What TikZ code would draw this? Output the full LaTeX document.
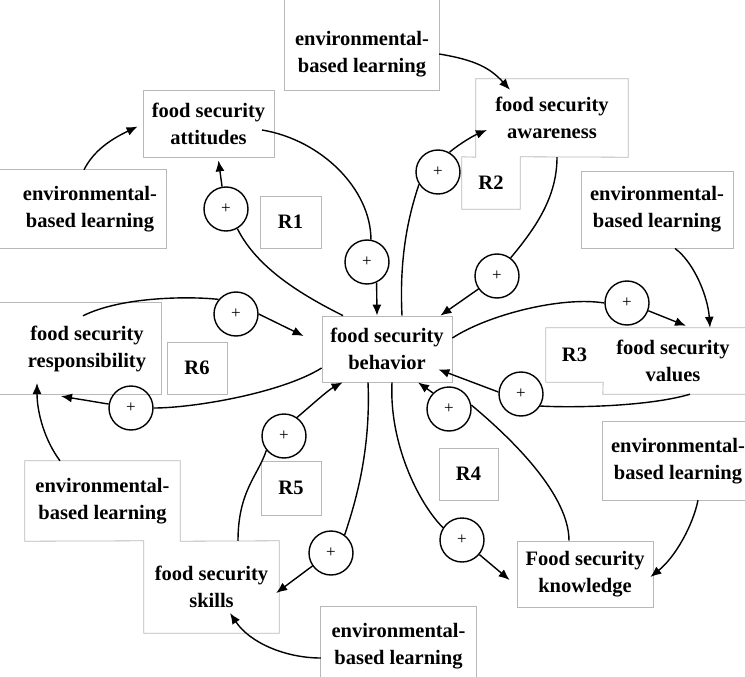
\documentclass[tikz,border=0pt]{standalone}
\usepackage{fontspec}
\setmainfont{Liberation Serif}
\usetikzlibrary{arrows.meta}
\definecolor{boxgray}{gray}{0.72}
\begin{document}
\begin{tikzpicture}[x=1pt,y=-1pt,
  every node/.style={font=\bfseries\fontsize{20.5}{27}\selectfont, align=center, inner sep=0pt},
  box/.style 2 args={minimum width=#1pt, minimum height=#2pt},
  framed/.style={draw=boxgray, line width=0.8pt},
  boxline/.style={draw=boxgray, line width=0.8pt},
  plus/.style={circle, draw, line width=1.4pt, minimum size=44pt, font=\fontsize{17}{17}\selectfont},
  conn/.style={line width=1.4pt},
  arr/.style={conn, -{Latex[length=11pt,width=9pt]}}]
\useasboundingbox (0,0) rectangle (745,677);
\clip (0,0) rectangle (745,677);

% text boxes
\node[box={154}{72}] (envT) at (362,54) {environmental-\\based learning};
\node[box={131}{67}, framed] (att) at (208.5,123.5) {food security\\attitudes};
\node[box={152}{78}] (envL) at (90,209) {environmental-\\based learning};
\node[box={152}{78}] (aw) at (552,118) {food security\\awareness};
\node[box={58}{52}] (r2) at (491,183) {R2};
\node[box={61}{52}, framed] (r1) at (290.5,222) {R1};
\node[box={152}{77}, framed] (envV) at (657,209.5) {environmental-\\based learning};
\node[box={130}{66}, framed] (beh) at (387,349) {food security\\behavior};
\node[box={57}{54}] (r3) at (574.5,355) {R3};
\node[box={140}{66}] (val) at (673,361) {food security\\values};
\node[box={148}{91}] (resp) at (87,348.5) {food security\\responsibility};
\node[box={60}{52}, framed] (r6) at (197,368) {R6};
\node[box={150}{78}] (envK) at (678,461) {environmental-\\based learning};
\node[box={59}{52}, framed] (r4) at (468.5,474) {R4};
\node[box={60}{54}, framed] (r5) at (291,488) {R5};
\node[box={155}{80}] (envL2) at (102.5,501) {environmental-\\based learning};
\node[box={135}{92}] (skills) at (211.5,587) {food security\\skills};
\node[box={136}{66}, framed] (kn) at (585,574) {Food security\\knowledge};
\node[box={155}{78}] (envB) at (398.5,646) {environmental-\\based learning};

% outlines of joined and cut-off boxes
\draw[boxline] ([yshift=20pt]envT.north west) -- (envT.south west) -- (envT.south east) -- ([yshift=20pt]envT.north east);
\draw[boxline] ([xshift=-20pt]envL.north west) -- (envL.north east) -- (envL.south east) -- ([xshift=-20pt]envL.south west);
\draw[boxline] (aw.north west) -- (aw.north east) -- (aw.south east) -- (r2.north east) -- (r2.south east) -- (r2.south west) -- (r2.north west) -- (aw.south west) -- cycle;
\draw[boxline] ([xshift=20pt]val.north east) -- (r3.north west) -- (r3.south west) -- (r3.south east) -- (val.south west) -- ([xshift=20pt]val.south east);
\draw[boxline] ([xshift=-20pt]resp.north west) -- (resp.north east) -- (resp.south east) -- ([xshift=-20pt]resp.south west);
\draw[boxline] ([xshift=30pt]envK.north east) -- (envK.north west) -- (envK.south west) -- ([xshift=30pt]envK.south east);
\draw[boxline] (envL2.north west) -- (envL2.north east) -- (envL2.south east) -- (skills.north east) -- (skills.south east) -- (skills.south west) -- (skills.north west) -- (envL2.south west) -- cycle;
\draw[boxline] ([yshift=-20pt]envB.south west) -- (envB.north west) -- (envB.north east) -- ([yshift=-20pt]envB.south east);

% polarity markers
\node[plus] (c1) at (226,209) {+};
\node[plus] (c2) at (367,262) {+};
\node[plus] (c3) at (438,172) {+};
\node[plus] (c4) at (497,276) {+};
\node[plus] (c5) at (627,303) {+};
\node[plus] (c6) at (521,394) {+};
\node[plus] (c7) at (449,409) {+};
\node[plus] (c8) at (462,540) {+};
\node[plus] (c9) at (331,553) {+};
\node[plus] (c10) at (284,436) {+};
\node[plus] (c11) at (131,408) {+};
\node[plus] (c12) at (236,314) {+};

% environmental-based learning inputs
\draw[arr] (envT.east) .. controls +(36,6) and +(-20,-22) .. ([xshift=-42pt,yshift=-11pt]aw.north);
\draw[arr] ([xshift=-6pt]envL.north) .. controls +(10,-20) and +(-25,12) .. ([xshift=-5pt,yshift=-3pt]att.west);
\draw[arr] ([xshift=18pt]envV.south) .. controls +(20,15) and +(-2,-30) .. ([xshift=37pt]val.north);
\draw[arr] ([xshift=20pt]envK.south) .. controls +(-5,25) and +(25,-20) .. ([xshift=-3pt,yshift=-3pt]kn.east);
\draw[arr] ([yshift=-12pt]envB.west) .. controls +(-35,0) and +(20,30) .. ([xshift=18.5pt,yshift=-26pt]skills.center);
\draw[arr] ([xshift=-42.5pt]envL2.north) .. controls +(-15,-20) and +(0,30) .. ([xshift=-50pt,yshift=-34.5pt]resp.center);

% R1
\draw[conn] ([xshift=-44pt]beh.north) .. controls +(-40,-20) and +(20,40) .. (c1.-60);
\draw[arr] (c1.100) -- ([xshift=10pt,yshift=-3pt]att.south);
\draw[conn] ([xshift=53.5pt,yshift=-6.5pt]att.center) .. controls +(60,10) and +(0,-50) .. (c2.80);
\draw[arr] (c2.-65) -- ([xshift=-10pt]beh.north);
% R2
\draw[conn] ([xshift=15pt]beh.north) .. controls +(-3,-60) and +(-10,30) .. (c3.-147);
\draw[arr] (c3.60) .. controls +(12,-10) and +(-12,5) .. ([xshift=-65pt,yshift=-12pt]aw.center);
\draw[conn] ([xshift=5pt]aw.south) .. controls +(0,40) and +(25,-30) .. (c4.53);
\draw[arr] (c4.-145) -- ([xshift=-12pt]beh.north east);
% R3
\draw[conn] ([yshift=11pt]beh.east) .. controls +(35,-23) and +(-43,-7) .. (c5.west);
\draw[arr] (c5.-20) -- ([xshift=13pt,yshift=2pt]val.north);
\draw[conn] ([xshift=17pt]val.south) .. controls +(-40,12) and +(35,2) .. (c6.-32);
\draw[arr] (c6.175) -- ([xshift=-14pt,yshift=13pt]beh.south east);
% R4
\draw[conn] ([xshift=-16pt]kn.north) .. controls +(0,-50) and +(30,25) .. (c7.10);
\draw[arr] (c7.135) -- ([xshift=31pt]beh.south);
\draw[conn] ([xshift=5pt]beh.south) .. controls +(-3,60) and +(-25,-25) .. (c8.147);
\draw[arr] (c8.-40) -- ([xshift=-7pt,yshift=-6pt]kn.west);
% R5
\draw[conn] ([xshift=-19pt]beh.south) .. controls +(3,70) and +(10,-30) .. (c9.53);
\draw[arr] (c9.-145) -- ([xshift=-3pt,yshift=-6pt]skills.east);
\draw[conn] ([xshift=26.5pt]skills.north) .. controls +(0,-50) and +(-8,25) .. (c10.-141);
\draw[arr] (c10.55) .. controls +(12,-10) and +(-15,8) .. ([xshift=21pt]beh.south west);
% R6
\draw[conn] ([yshift=-19pt]beh.west) .. controls +(-40,25) and +(40,0) .. (c11.east);
\draw[arr] (c11.170) -- ([xshift=-26pt,yshift=-2pt]resp.south);
\draw[conn] ([xshift=-4pt,yshift=-13pt]resp.north) .. controls +(40,-20) and +(-25,-3) .. (c12.140);
\draw[arr] (c12.east) -- ([xshift=-18pt,yshift=13pt]beh.west);
\end{tikzpicture}
\end{document}
